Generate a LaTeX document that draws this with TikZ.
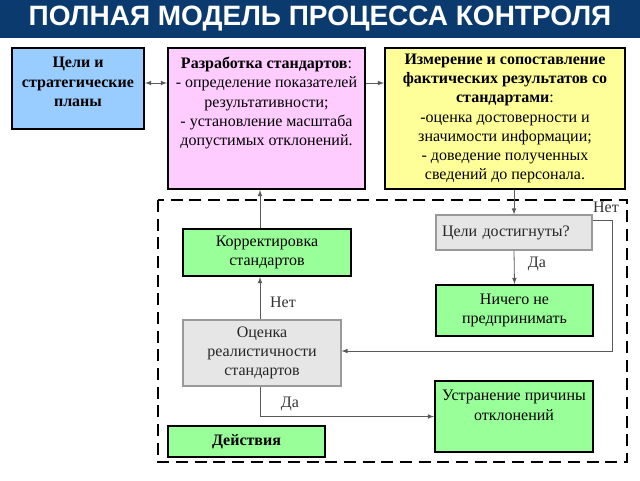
\documentclass[tikz,border=0pt]{standalone}
\usepackage{fontspec}
\setmainfont{Liberation Serif}
\newfontfamily\headfont{Liberation Sans}
\definecolor{headblue}{RGB}{10,58,110}
\definecolor{boxblue}{RGB}{153,204,255}
\definecolor{boxpink}{RGB}{255,204,255}
\definecolor{boxyellow}{RGB}{255,255,153}
\definecolor{boxgreen}{RGB}{153,255,153}
\definecolor{boxgray}{RGB}{230,230,230}
\definecolor{linegray}{RGB}{90,90,90}
\tikzset{
  box/.style={draw,line width=1.5pt,inner sep=2pt,align=center,
    font=\rmfamily\fontsize{12}{14.4}\selectfont},
  greenbox/.style={box,fill=boxgreen},
  graybox/.style={box,draw=gray!80,line width=0.8pt,fill=boxgray,text=black!85},
  answer/.style={font=\rmfamily\fontsize{12}{14.4}\selectfont,text=black!80},
  conn/.style={->,draw=linegray,line width=0.6pt}
}
\begin{document}
\begin{tikzpicture}[x=0.75pt,y=-0.75pt,>=latex]
\useasboundingbox (0,0) rectangle (640,480);
\node[fill=headblue,minimum width=480pt,minimum height=29pt,text=white,
  font=\headfont\bfseries\fontsize{21}{25}\selectfont] (title) at (320,19)
  {ПОЛНАЯ МОДЕЛЬ ПРОЦЕССА КОНТРОЛЯ};
\node[box,fill=boxblue,inner sep=0pt] (goals) at (78,88.5)
  {\parbox[c][60.75pt][t]{99pt}{\centering\vspace*{7pt}\textbf{Цели и}\\\textbf{стратегические}\\\textbf{планы}}};
\node[box,fill=boxpink,inner sep=0pt] (standards) at (266.5,118.5)
  {\parbox[c][105.75pt][t]{147.75pt}{\centering\vspace*{7pt}\textbf{Разработка стандартов}:\\
  - определение показателей\\результативности;\\- установление масштаба\\допустимых отклонений.}};
\node[box,fill=boxyellow,minimum width=180pt,minimum height=105.75pt] (measure) at (505,118.5)
  {\textbf{Измерение и сопоставление}\\\textbf{фактических результатов со}\\\textbf{стандартами}:\\
  -оценка достоверности и\\значимости информации;\\- доведение полученных\\сведений до персонала.};
\draw[dashed,line width=1.5pt,dash pattern=on 9pt off 5pt] (158,200) rectangle (627,462);
\node[greenbox,minimum width=126pt,minimum height=35.25pt] (correct) at (267,252.5)
  {Корректировка\\стандартов};
\node[graybox,minimum height=26.25pt,text width=108pt,inner sep=4.5pt,align=left] (achieved) at (514,232.5)
  {Цели достигнуты?};
\node[greenbox,minimum width=117.75pt,minimum height=38.25pt] (nothing) at (514.5,310.5)
  {Ничего не\\предпринимать};
\node[graybox,minimum width=118.5pt,minimum height=49.5pt] (realism) at (262,353)
  {Оценка\\реалистичности\\стандартов};
\node[greenbox,inner sep=0pt] (remove) at (514,416.5)
  {\parbox[c][53.25pt][t]{118.5pt}{\centering\vspace*{7pt}Устранение причины\\отклонений}};
\node[greenbox,minimum width=117.75pt,minimum height=23.25pt] (actions) at (246.5,441.5)
  {\textbf{Действия}};
\coordinate (hy) at (0,83);
\coordinate (vx) at (260,0);
\coordinate (turn) at (612,351);
\draw[conn,<->] (goals.east |- hy) -- (standards.west |- hy);
\draw[conn] (standards.east |- hy) -- (measure.west |- hy);
\draw[conn] (measure.south -| achieved) -- (achieved.north);
\draw[conn] (achieved.south) -- (nothing.north);
\draw[conn] ([yshift=9pt]achieved.east) -| (turn) -- (turn -| realism.east);
\draw[conn] (realism.north -| vx) -- (correct.south -| vx);
\draw[conn] (correct.north -| vx) -- (standards.south -| vx);
\draw[conn] (realism.south -| vx) |- (remove.west);
\node[answer] (no1) at (606,207) {Нет};
\node[answer] (yes1) at (537,264) {Да};
\node[answer] (no2) at (283,302) {Нет};
\node[answer] (yes2) at (290,404) {Да};
\end{tikzpicture}
\end{document}
